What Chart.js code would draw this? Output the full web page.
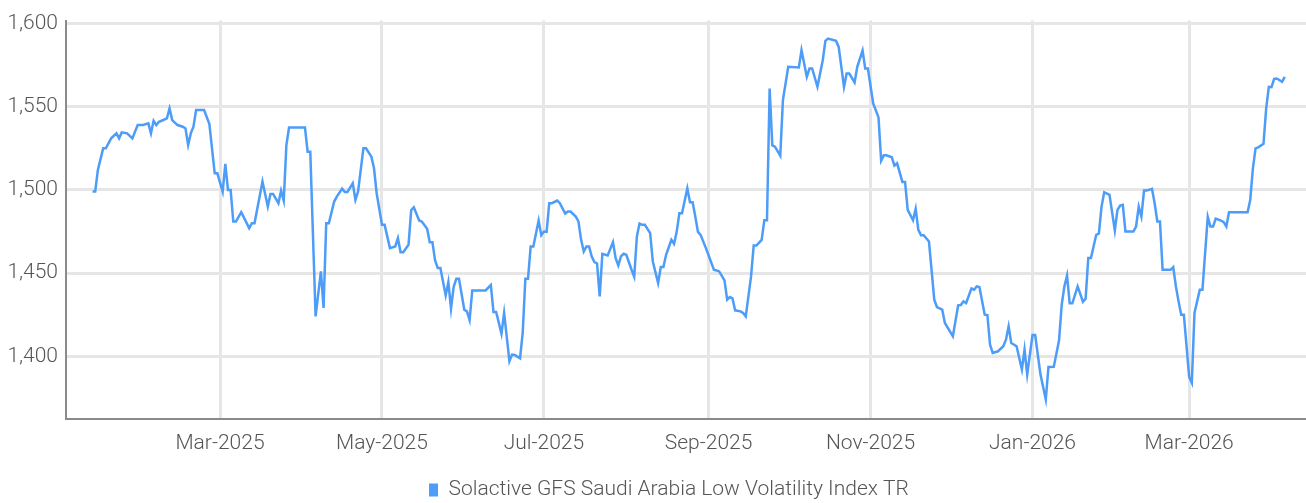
<!DOCTYPE html>
<html>
<head>
<meta charset="utf-8">
<script src="https://cdn.jsdelivr.net/npm/chart.js@4.4.1/dist/chart.umd.min.js"></script>
<style>
  html, body { margin: 0; padding: 0; background: #fff; }
  #chart { display: block; }
</style>
</head>
<body>
<canvas id="chart" width="1306" height="503"></canvas>
<script>
// days counted from 1 Jan 2025 (day 0)
var dayNumbers = [
    11, 12, 13, 15, 16, 18, 20, 21, 22, 24, 26, 28, 30, 32, 33, 34, 35, 36, 37, 39,
    40, 41, 43, 45, 46, 47, 48, 49, 50, 53, 55, 57, 58, 60, 61, 62, 63, 64, 65, 67,
    70, 71, 72, 75, 77, 78, 79, 81, 82, 83, 84, 85, 91, 92, 93, 95, 97, 98, 99, 100,
    102, 103, 105, 106, 107, 109, 110, 111, 113, 114, 116, 117, 118, 120, 121, 123, 125, 126, 127, 128,
    130, 131, 132, 134, 135, 137, 138, 139, 140, 141, 142, 144, 145, 146, 147, 148, 149, 151, 152, 153,
    154, 159, 161, 162, 163, 165, 166, 168, 169, 170, 172, 173, 174, 175, 176, 177, 179, 180, 181, 182,
    183, 184, 186, 187, 189, 190, 191, 193, 194, 195, 196, 197, 198, 199, 200, 201, 202, 203, 205, 207,
    208, 209, 210, 211, 212, 214, 215, 216, 217, 218, 219, 221, 222, 224, 225, 226, 227, 229, 230, 231,
    232, 233, 235, 236, 237, 238, 239, 240, 242, 245, 246, 247, 249, 250, 251, 252, 253, 255, 256, 257,
    259, 260, 261, 263, 264, 265, 266, 267, 268, 270, 271, 273, 277, 278, 280, 281, 282, 284, 286, 287,
    288, 291, 292, 294, 295, 296, 298, 299, 301, 302, 303, 305, 307, 308, 309, 310, 312, 313, 314, 316,
    317, 318, 320, 321, 322, 323, 324, 326, 328, 329, 331, 332, 335, 337, 338, 339, 340, 342, 343, 344,
    345, 347, 348, 349, 350, 352, 354, 355, 356, 357, 359, 361, 362, 363, 365, 366, 368, 370, 371, 373,
    375, 376, 377, 378, 379, 380, 382, 384, 385, 386, 387, 389, 390, 391, 392, 394, 396, 397, 398, 399,
    400, 403, 404, 405, 406, 407, 408, 410, 411, 412, 413, 414, 417, 418, 419, 420, 421, 422, 424, 425,
    426, 428, 429, 431, 432, 433, 434, 436, 437, 438, 439, 446, 447, 448, 449, 450, 452, 453, 454, 455,
    456, 457, 459, 460
]
var indexValues = [
    1499, 1499, 1512, 1525, 1525, 1531, 1534, 1531, 1534.6, 1534, 1531, 1539, 1539, 1540, 1534, 1541.6, 1539, 1541, 1541.6, 1543,
    1549, 1542, 1539, 1538, 1537, 1527, 1534, 1538, 1548, 1548, 1539.6, 1510, 1510, 1499, 1515.6, 1500, 1500, 1481, 1481, 1486.6,
    1477, 1480, 1480, 1505, 1490, 1497.6, 1497.6, 1492, 1499.6, 1493.6, 1527, 1537.5, 1537.5, 1523, 1523, 1424, 1451, 1429, 1480, 1480,
    1493, 1496, 1500.8, 1498.8, 1498.8, 1504, 1494, 1499, 1525, 1525, 1520, 1513, 1498, 1479, 1479, 1465, 1466, 1471, 1462.6, 1462.6,
    1467, 1487.8, 1489.6, 1481.6, 1481, 1476.6, 1468.6, 1468.6, 1457.6, 1453, 1453, 1436.6, 1444.6, 1428.6, 1441.8, 1446.6, 1446.6, 1428, 1427, 1421.8,
    1439.6, 1439.6, 1442.8, 1426.6, 1426.6, 1413.6, 1426, 1397, 1401, 1400.8, 1398.8, 1414, 1446.6, 1446.6, 1466, 1466, 1481.6, 1472.8, 1475, 1474.8,
    1492, 1492, 1493.6, 1492, 1485.8, 1487, 1487, 1484, 1481, 1470, 1463, 1466, 1466, 1460, 1456.6, 1455.8, 1436, 1461.6, 1460.6, 1468.6,
    1459, 1454.6, 1460, 1461.6, 1461, 1452, 1447.8, 1472, 1479.8, 1479, 1479, 1474, 1457, 1444, 1453.6, 1453.6, 1461, 1470, 1467.6, 1474.8,
    1486, 1486, 1501, 1492.6, 1492.6, 1484, 1474.8, 1473, 1465, 1452, 1451.6, 1451, 1445.6, 1434, 1435.6, 1434.8, 1427.6, 1427, 1426, 1424,
    1448, 1466.6, 1466.6, 1470, 1481.8, 1481.8, 1561, 1526.8, 1526, 1520.6, 1554, 1574, 1573.6, 1584, 1568, 1573, 1573, 1562, 1578, 1589.6,
    1591, 1589.6, 1586, 1562, 1570, 1570, 1564.6, 1574, 1583.8, 1573, 1573, 1552, 1543.6, 1517.6, 1520.8, 1520.8, 1519.6, 1514.6, 1516, 1504.8,
    1504.8, 1488, 1481.8, 1488.6, 1476, 1472.8, 1472.8, 1469, 1434, 1429.6, 1428, 1420, 1412, 1430.6, 1430.8, 1433, 1432, 1440.8, 1440, 1442,
    1441.6, 1425, 1424.8, 1407, 1402, 1403, 1406, 1410, 1418, 1408, 1406, 1392, 1404, 1389, 1412.8, 1412.8, 1389, 1374, 1393.5, 1393.6,
    1409.6, 1431, 1442, 1448.6, 1431.8, 1431.8, 1442, 1432.8, 1434.6, 1459, 1459, 1473, 1473.8, 1490, 1498.6, 1497, 1475.6, 1488, 1490.6, 1491,
    1475, 1475, 1478, 1490, 1484, 1499.6, 1499.6, 1500.6, 1492, 1481, 1481, 1452, 1452, 1453.6, 1442, 1433, 1425, 1425, 1387.6, 1384,
    1426, 1440, 1440, 1483.8, 1478, 1478, 1482.8, 1481.6, 1480.6, 1478, 1486.6, 1486.6, 1494, 1513, 1525, 1525.6, 1527.8, 1549, 1562, 1561.8,
    1566.8, 1567, 1565, 1568
]
var seriesName = 'Solactive GFS Saudi Arabia Low Volatility Index TR'

var tickDates = ['2025-03-01', '2025-05-01', '2025-07-01', '2025-09-01', '2025-11-01', '2026-01-01', '2026-03-01']
var tickLabels = ['Mar-2025', 'May-2025', 'Jul-2025', 'Sep-2025', 'Nov-2025', 'Jan-2026', 'Mar-2026']
var yTicks = [1400, 1450, 1500, 1550, 1600]

var dayZero = Date.UTC(2025, 0, 1)
var tickDays = tickDates.map(function (d) {
    return (Date.parse(d + 'T00:00:00Z') - dayZero) / 86400000
})

var points = []
for (var i = 0; i < dayNumbers.length; i++) {
    points.push({ x: dayNumbers[i], y: indexValues[i] });
}

var blue = '#4c9cf8'
var gridColor = '#e6e6e6'
var axisColor = '#8a8a8a'
var labelFont = { family: 'Roboto', size: 21, weight: 300 }

// legend sits a little right of the canvas centre in the original
var legendShift = {
    id: 'legendShift',
    afterLayout: function (chart) {
        chart.legend.left += 16
        chart.legend.right += 16
    }
}

const ctx = document.getElementById('chart');
new Chart(ctx, {
    type: 'line',
    data: {
        datasets: [{
            label: seriesName,
            data: points,
            borderColor: blue,
            backgroundColor: blue,
            borderWidth: 2.5,
            pointRadius: 0,
            tension: 0,
            fill: false
        }]
    },
    options: {
        responsive: false,
        animation: false,
        layout: {
            padding: { top: 19, right: 0, bottom: -7.5, left: 0 }
        },
        scales: {
            x: {
                type: 'linear',
                min: 1,
                max: 468,
                afterBuildTicks: function (scale) {
                    scale.ticks = tickDays.map(function (v) { return { value: v } })
                },
                ticks: {
                    callback: function (v, i) { return tickLabels[i] },
                    font: labelFont,
                    color: '#555',
                    padding: 12,
                    maxRotation: 0,
                    autoSkip: false
                },
                grid: { color: gridColor, lineWidth: 3, drawTicks: false },
                border: { color: axisColor, width: 2 }
            },
            y: {
                min: 1362.4,
                max: 1601.8,
                afterBuildTicks: function (scale) {
                    scale.ticks = yTicks.map(function (v) { return { value: v } })
                },
                afterFit: function (scale) {
                    scale.width = 66
                },
                ticks: {
                    callback: function (v) { return v.toLocaleString('en-US') },
                    font: labelFont,
                    color: '#555',
                    padding: 8
                },
                grid: { color: gridColor, lineWidth: 3, drawTicks: false },
                border: { color: axisColor, width: 2 }
            }
        },
        plugins: {
            legend: {
                position: 'bottom',
                labels: {
                    boxWidth: 9,
                    boxHeight: 13,
                    padding: 11.5,
                    font: labelFont,
                    color: '#555',
                    generateLabels: function (chart) {
                        return Chart.defaults.plugins.legend.labels.generateLabels(chart).map(function (l) {
                            l.lineWidth = 0
                            return l
                        })
                    }
                }
            },
            tooltip: { enabled: false }
        }
    },
    plugins: [legendShift]
});
</script>
</body>
</html>
